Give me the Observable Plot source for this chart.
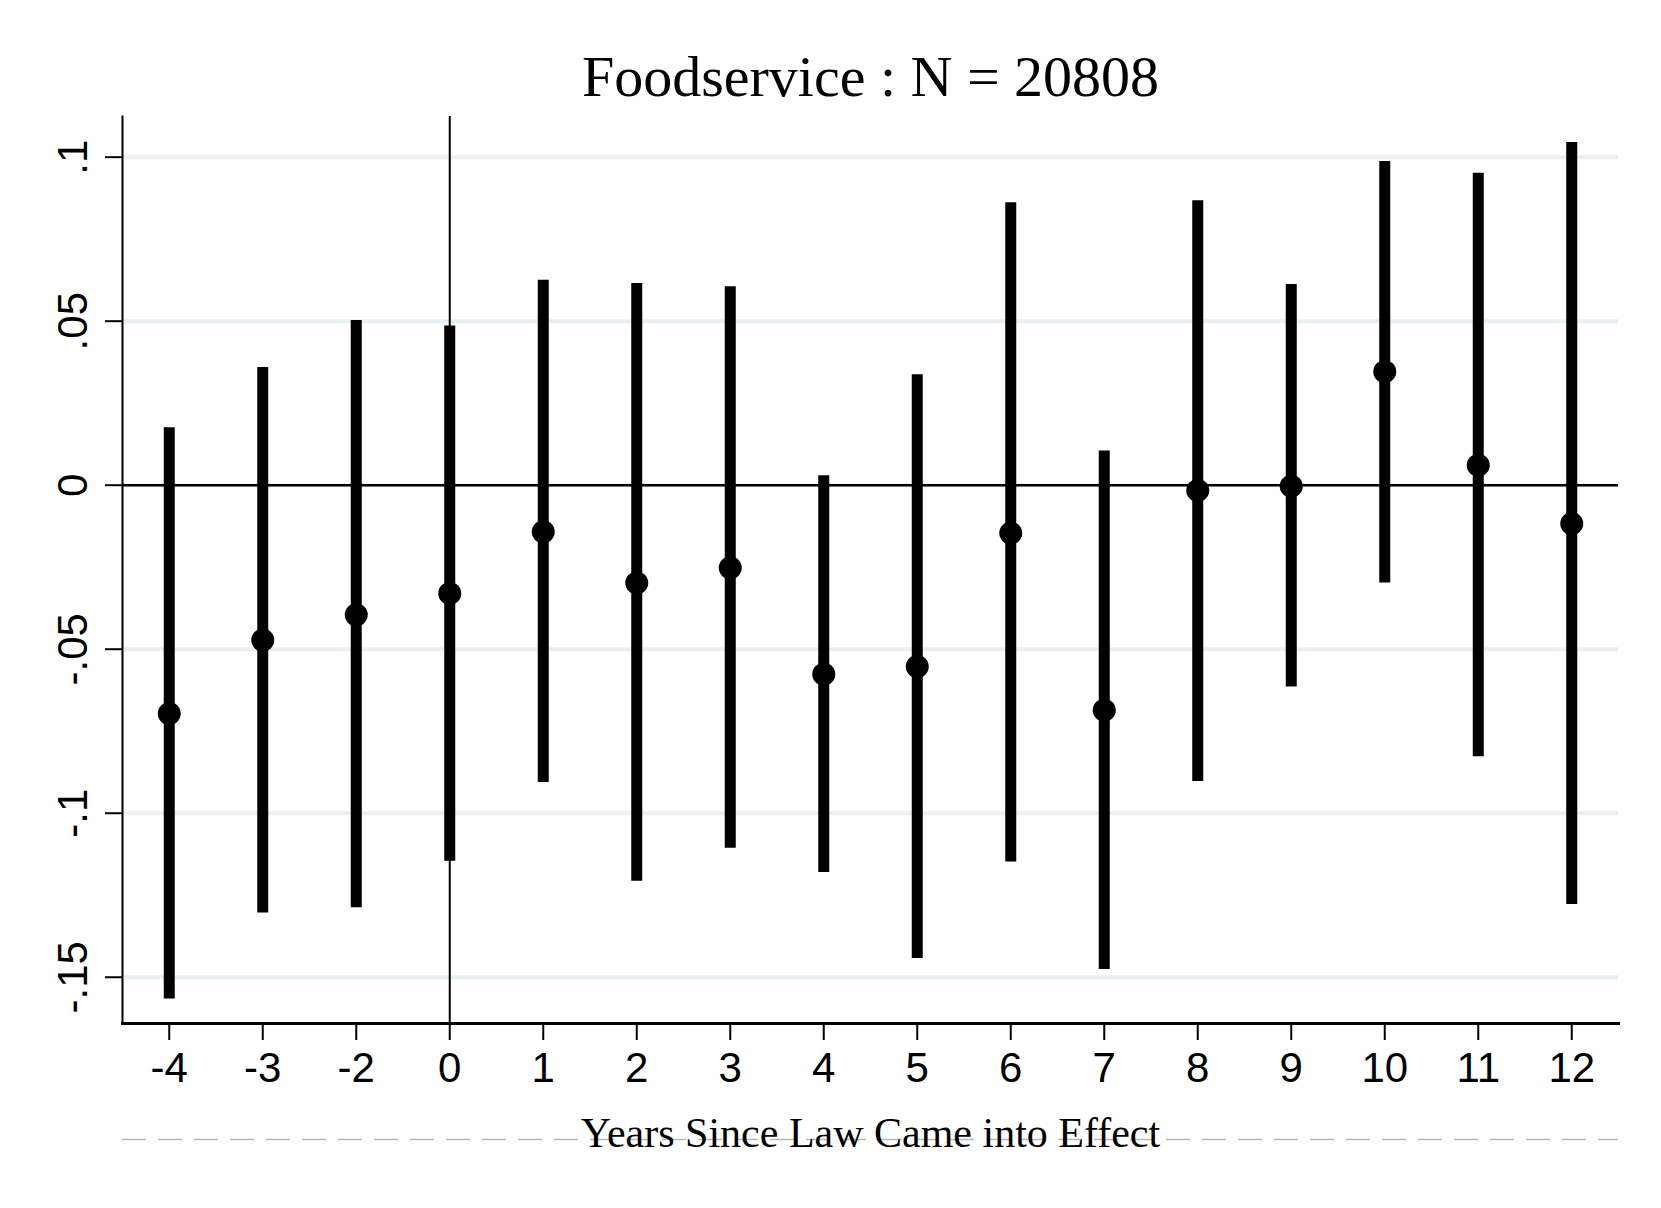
<!DOCTYPE html>
<html>
<head>
<meta charset="utf-8">
<script src="https://cdn.jsdelivr.net/npm/d3@7"></script>
<script src="https://cdn.jsdelivr.net/npm/@observablehq/plot@0.6"></script>
<style>
  html, body { margin: 0; padding: 0; background: #ffffff; }
  #chart svg { display: block; }
</style>
</head>
<body>
<div id="chart"></div>
<script>
// ---- data ----
const years = ["-4","-3","-2","0","1","2","3","4","5","6","7","8","9","10","11","12"];
const estimates = [-0.0696, -0.0472, -0.0395, -0.0330, -0.0142, -0.0298, -0.0252, -0.0576, -0.0553, -0.0146, -0.0686, -0.0016, -0.0003, 0.0346, 0.0061, -0.0117];
const lower = [-0.1566, -0.1304, -0.1288, -0.1146, -0.0906, -0.1207, -0.1107, -0.1181, -0.1443, -0.1149, -0.1476, -0.0903, -0.0615, -0.0298, -0.0828, -0.1278];
const upper = [0.0175, 0.0359, 0.0502, 0.0485, 0.0625, 0.0615, 0.0605, 0.0029, 0.0337, 0.0861, 0.0104, 0.0867, 0.0612, 0.0987, 0.0951, 0.1045];
const yTicks = [-0.15, -0.1, -0.05, 0, 0.05, 0.1];
const yTickLabels = ["-.15", "-.1", "-.05", "0", ".05", ".1"];
const titleText = "Foodservice : N = 20808";
const xLabel = "Years Since Law Came into Effect";
const yDomain = [-0.1641, 0.1124];

const data = years.map((yr, i) => ({year: yr, est: estimates[i], lo: lower[i], hi: upper[i]}));
const yTickData = yTicks.map((v, i) => ({v, label: yTickLabels[i]}));

const serif = "'Liberation Serif', 'Times New Roman', serif";
const sans = "'Liberation Sans', Arial, Helvetica, sans-serif";

const chart = Plot.plot({
  width: 1661,
  height: 1208,
  marginTop: 116,
  marginBottom: 185,
  marginLeft: 122,
  marginRight: 43,
  style: {background: "#ffffff", color: "#000000", fontFamily: sans},
  x: {type: "point", domain: years, padding: 0.5, round: false},
  y: {domain: yDomain},
  marks: [
    Plot.gridY(yTicks, {stroke: "#e8f0f1", strokeOpacity: 1, strokeWidth: 4}),
    Plot.ruleY([0], {stroke: "#000000", strokeWidth: 2.5}),
    Plot.ruleX(["0"], {stroke: "#000000", strokeWidth: 2}),
    Plot.ruleX(data, {x: "year", y1: "lo", y2: "hi", stroke: "#000000", strokeWidth: 11}),
    Plot.dot(data, {x: "year", y: "est", r: 11.5, fill: "#000000", stroke: null}),
    Plot.frame({anchor: "left", stroke: "#000000", strokeWidth: 2}),
    Plot.frame({anchor: "bottom", stroke: "#000000", strokeWidth: 3}),
    Plot.axisX({tickSize: 17, tickPadding: 12, fontSize: 42, fontFamily: sans, strokeWidth: 2, label: null}),
    Plot.axisY(yTicks, {tickSize: 17, tickFormat: () => "", strokeWidth: 2, label: null}),
    Plot.text(yTickData, {y: "v", text: "label", frameAnchor: "left", dx: -49, rotate: -90,
      textAnchor: "middle", lineAnchor: "middle", fontSize: 42, fontFamily: sans, fill: "#000000"}),
    Plot.text([titleText], {frameAnchor: "top", dy: -39.5, lineAnchor: "middle", textAnchor: "middle",
      fontSize: 58, fontFamily: serif, fill: "#000000"}),
    Plot.ruleY([yDomain[0]], {dy: 116, stroke: "#b8b8b8", strokeWidth: 1.5, strokeDasharray: "24,12"}),
    Plot.text([xLabel], {frameAnchor: "bottom", dy: 110.5, lineAnchor: "middle", textAnchor: "middle",
      fontSize: 42, fontFamily: serif, fill: "#000000"})
  ]
});
document.getElementById("chart").appendChild(chart);
</script>
</body>
</html>
